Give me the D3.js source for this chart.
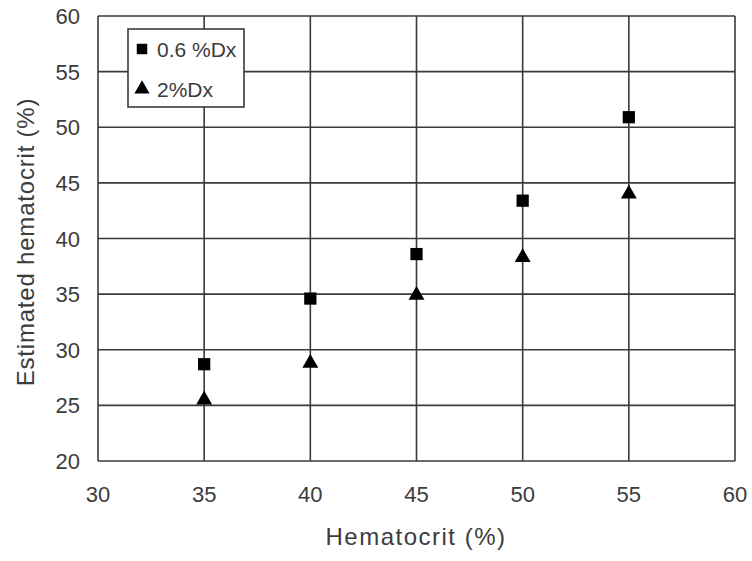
<!DOCTYPE html>
<html>
<head>
<meta charset="utf-8">
<script src="https://d3js.org/d3.v7.min.js"></script>
<style>
  body { margin: 0; background: #fff; }
  text { font-family: "Liberation Sans", Arial, sans-serif; fill: #3c3c3c; }
</style>
</head>
<body>
<script>
// data
var hct = [35, 40, 45, 50, 55];
var dx06 = [28.7, 34.6, 38.6, 43.4, 50.9];
var dx2 = [25.5, 28.8, 34.9, 38.3, 44.0];
var xTicks = [30, 35, 40, 45, 50, 55, 60];
var yTicks = [20, 25, 30, 35, 40, 45, 50, 55, 60];
var seriesNames = ['0.6 %Dx', '2%Dx'];

var width = 752, height = 561;
var svg = d3.select('body').append('svg').attr('width', width).attr('height', height);

var x = d3.scaleLinear().domain([30, 60]).range([98, 735]);
var y = d3.scaleLinear().domain([20, 60]).range([461, 16]);

// grid
svg.append('g').selectAll('line').data(xTicks).enter().append('line')
    .attr('x1', function(d){ return x(d) }).attr('x2', function(d){ return x(d) })
    .attr('y1', y(20)).attr('y2', y(60))
    .attr('stroke', '#3a3a3a').attr('stroke-width', 1.6);
svg.append('g').selectAll('line').data(yTicks).enter().append('line')
    .attr('y1', function(d){ return y(d) }).attr('y2', function(d){ return y(d) })
    .attr('x1', x(30)).attr('x2', x(60))
    .attr('stroke', '#3a3a3a').attr('stroke-width', 1.6);

// tick labels
svg.append('g').selectAll('text').data(xTicks).enter().append('text')
    .attr('x', function(d){ return x(d) }).attr('y', 502)
    .attr('text-anchor', 'middle').attr('font-size', 22).text(function(d){ return d });
svg.append('g').selectAll('text').data(yTicks).enter().append('text')
    .attr('x', 80).attr('y', function(d){ return y(d) + 8 })
    .attr('text-anchor', 'end').attr('font-size', 22).text(function(d){ return d });

// axis titles
svg.append('text').attr('x', 416).attr('y', 545).attr('text-anchor', 'middle')
    .attr('font-size', 24).style('letter-spacing', '1.5px').text('Hematocrit (%)');
svg.append('text').attr('transform', 'translate(34,242) rotate(-90)').attr('text-anchor', 'middle')
    .attr('font-size', 24).style('letter-spacing', '0.8px').text('Estimated hematocrit (%)');

// points
var sq = d3.symbol().type(d3.symbolSquare).size(150);
var tri = d3.symbol().type(d3.symbolTriangle).size(110);
svg.append('g').selectAll('path').data(hct).enter().append('path')
    .attr('d', sq).attr('fill', '#000')
    .attr('transform', function(d, i){ return 'translate(' + x(d) + ',' + y(dx06[i]) + ')' });
svg.append('g').selectAll('path').data(hct).enter().append('path')
    .attr('d', tri).attr('fill', '#000')
    .attr('transform', function(d, i){ return 'translate(' + x(d) + ',' + y(dx2[i]) + ')' });

// legend
var legend = svg.append('g');
legend.append('rect').attr('x', 128).attr('y', 29).attr('width', 116).attr('height', 78)
    .attr('fill', '#fff').attr('stroke', '#3a3a3a').attr('stroke-width', 1.6);
legend.append('path').attr('d', d3.symbol().type(d3.symbolSquare).size(110))
    .attr('fill', '#000').attr('transform', 'translate(142,49)');
legend.append('path').attr('d', d3.symbol().type(d3.symbolTriangle).size(100))
    .attr('fill', '#000').attr('transform', 'translate(142,89)');
legend.append('text').attr('x', 157).attr('y', 57).attr('font-size', 21).text(seriesNames[0]);
legend.append('text').attr('x', 157).attr('y', 97).attr('font-size', 21).text(seriesNames[1]);
</script>
</body>
</html>
